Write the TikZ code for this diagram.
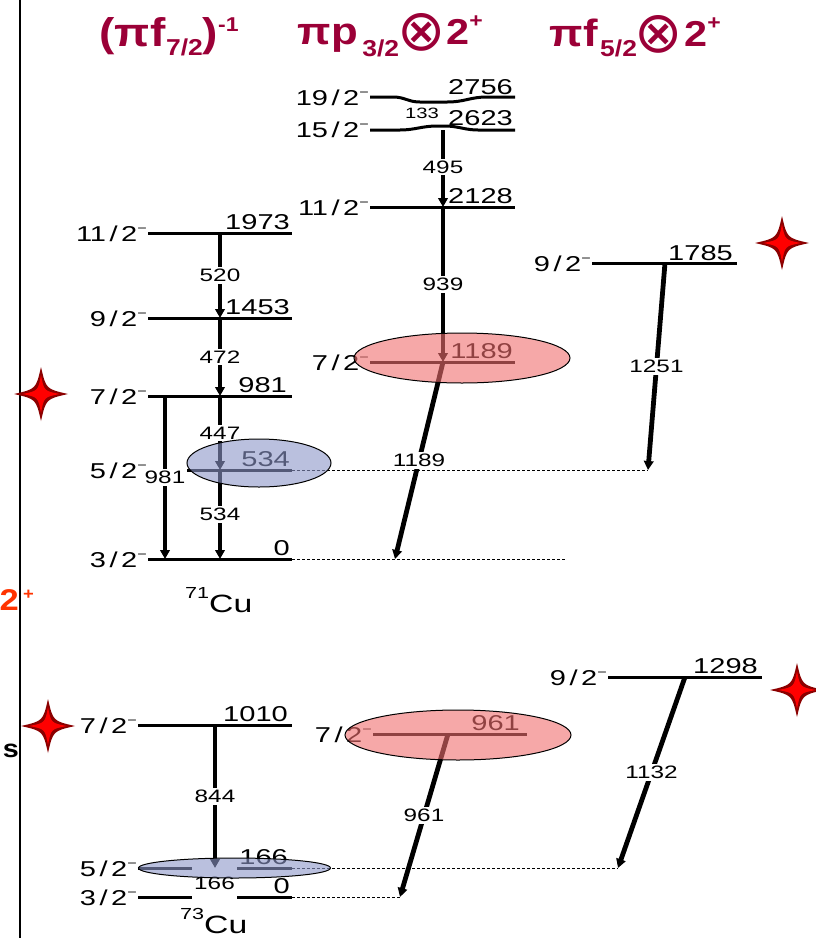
\documentclass[tikz,border=0pt]{standalone}
\usepackage{fontspec}
\setmainfont{Liberation Sans}
\newfontfamily\lf{Liberation Sans}[FakeStretch=1.35]
\newfontfamily\tf{Liberation Sans Bold}[FakeStretch=1.15]
\newfontfamily\symf{DejaVu Sans}
\usetikzlibrary{arrows.meta}
\definecolor{ttl}{RGB}{155,0,55}
\definecolor{blueE}{RGB}{140,150,200}
\definecolor{pinkE}{RGB}{240,110,110}
\definecolor{starD}{RGB}{139,0,0}
\definecolor{orng}{RGB}{255,51,0}
\newcommand\myfs[1]{\fontsize{#1}{#1}\selectfont}
\newcommand\jp[1]{#1\kern3.5pt/\kern3.5pt2\raisebox{9pt}{\myfs{12}−}}
\newcommand\otim{\kern-2pt\raisebox{-6pt}{\scalebox{1.8}{\symf\myfs{32}⊗}}\kern1pt}
\tikzset{star4/.pic={
  \fill[starD] (27,0) .. controls (5,5) .. (0,27) .. controls (-5,5) .. (-27,0) .. controls (-5,-5) .. (0,-27) .. controls (5,-5) .. (27,0) -- cycle;
  \fill[red] (19,0) .. controls (3,3) .. (0,19) .. controls (-3,3) .. (-19,0) .. controls (-3,-3) .. (0,-19) .. controls (3,-3) .. (19,0) -- cycle;
}}
\begin{document}
\begin{tikzpicture}[x=1pt,y=-1pt,
  lev/.style={line width=3pt},
  tr/.style={line width=4.8pt,-{Triangle[length=9pt,width=9.5pt]}},
  dl/.style={line width=1pt,dash pattern=on 3pt off 2pt},
  jl/.style={anchor=base east,inner sep=0pt,font=\lf\myfs{21.5}},
  el/.style={anchor=base east,inner sep=0pt,font=\lf\myfs{21.5}},
  tl/.style={fill=white,inner sep=2pt,font=\lf\myfs{18}},
  ttlst/.style={text=ttl,inner sep=0pt,anchor=base west,font=\tf}
]
\useasboundingbox (0,0) rectangle (815,938);
\draw[line width=2pt] (20,0) coordinate (vt) -- (20,938) coordinate (vb);

% titles
\node[ttlst] (t1) at (99,46) {\myfs{40}(π\kern1pt f\raisebox{-9pt}{\myfs{23}7/2})\raisebox{15pt}{\myfs{20}-1}};
\node[ttlst] (t2) at (297,44) {\myfs{38}π\kern1pt p\kern4pt\raisebox{-12pt}{\myfs{23}3/2}\otim\myfs{36}2\raisebox{17pt}{\myfs{20}+}};
\node[ttlst] (t3) at (549,46) {\myfs{38}π\kern1pt f\kern2pt\raisebox{-10pt}{\myfs{23}5/2}\otim\myfs{36}2\raisebox{17pt}{\myfs{20}+}};

% ===== 71Cu =====
\coordinate (a11l) at (148,233); \coordinate (a11r) at (292,233);
\coordinate (a9l) at (148,318);  \coordinate (a9r) at (292,318);
\coordinate (a7l) at (148,396);  \coordinate (a7r) at (292,396);
\coordinate (a5l) at (187,470);  \coordinate (a5r) at (292,470);
\coordinate (a3l) at (148,559);  \coordinate (a3r) at (292,559);
\coordinate (b11l) at (370,207); \coordinate (b11r) at (515,207);
\coordinate (b7l) at (370,362);  \coordinate (b7r) at (515,362);
\coordinate (c9l) at (592,263);  \coordinate (c9r) at (737,263);
\coordinate (d5end) at (648,470);
\coordinate (d3end) at (565,559);
\coordinate (g1189) at (395,559);

\draw[dl] (a5r) -- (d5end);
\draw[dl] (a3r) -- (d3end);

\draw[lev] (a11l) -- (a11r);
\draw[lev] (a9l) -- (a9r);
\draw[lev] (a7l) -- (a7r);
\draw[lev] (a5l) -- (a5r);
\draw[lev] (a3l) -- (a3r);
\draw[lev] (370,97) coordinate (b19l) -- (393,97) .. controls (405,97) and (408,102) .. (420,102) -- (447,102) .. controls (465,102) and (470,97) .. (487,97) -- (515,97) coordinate (b19r);
\draw[lev] (370,130) coordinate (b15l) -- (400,130) .. controls (415,130) and (422,126) .. (437,126) -- (445,126) .. controls (458,126) and (465,130) .. (478,130) -- (515,130) coordinate (b15r);
\draw[lev] (b11l) -- (b11r);
\draw[lev] (b7l) -- (b7r);
\draw[lev] (c9l) -- (c9r);

\draw[tr] (220,233) -- node[tl] (g520) {520} (220,318);
\draw[tr] (220,318) -- node[tl] (g472) {472} (220,396);
\draw[tr] (220,396) -- node[tl] (g447) {447} (220,470);
\draw[tr] (220,470) -- node[tl] (g534) {534} (220,559);
\draw[tr] (165,396) -- node[tl] (g981) {981} (165,559);
\draw[line width=4.8pt] (443,130) -- (443,150);
\draw[tr] (443,150) -- node[tl,pos=0.3] (g495) {495} (443,207);
\draw[tr] (443,207) -- node[tl] (g939) {939} (443,362);
\draw[tr] (443,362) -- node[tl] (g1189l) {1189} (g1189);
\draw[tr] (665,263) -- node[tl] (g1251) {1251} (d5end);
\node[font=\lf\myfs{15},inner sep=0pt] (g133) at (422,113) {133};

\node[jl] (ja11) at (147,241) {\jp{11}};
\node[jl] (ja9) at (147,326) {\jp{9}};
\node[jl] (ja7) at (147,404) {\jp{7}};
\node[jl] (ja5) at (147,478) {\jp{5}};
\node[jl] (ja3) at (147,567) {\jp{3}};
\node[jl] (jb19) at (369,105) {\jp{19}};
\node[jl] (jb15) at (369,137) {\jp{15}};
\node[jl] (jb11) at (369,215) {\jp{11}};
\node[jl] (jb7) at (369,370) {\jp{7}};
\node[jl] (jc9) at (591,271) {\jp{9}};

\node[el] (ea11) at (290,229) {1973};
\node[el] (ea9) at (290,314) {1453};
\node[el] (ea7) at (287,392) {981};
\node[el] (ea5) at (290,466) {534};
\node[el] (ea3) at (290,555) {0};
\node[el] (eb19) at (513,94) {2756};
\node[el] (eb15) at (513,125) {2623};
\node[el] (eb11) at (513,203) {2128};
\node[el] (eb7) at (513,358) {1189};
\node[el] (ec9) at (733,260) {1785};

\draw[fill=blueE,fill opacity=0.6,line width=1pt] (259,463) ellipse [x radius=72,y radius=24];
\draw[fill=pinkE,fill opacity=0.6,line width=1pt] (462,358) ellipse [x radius=108,y radius=25];

\node[anchor=base west,inner sep=0pt,font=\lf] (cu71) at (185,612) {\raisebox{14pt}{\myfs{16}71}\myfs{25}Cu};

% ===== 73Cu =====
\coordinate (p7l) at (138,725); \coordinate (p7r) at (292,725);
\coordinate (p5l) at (138,868); \coordinate (p5r) at (292,868);
\coordinate (p3l) at (138,897); \coordinate (p3r) at (292,897);
\coordinate (q7l) at (373,734); \coordinate (q7r) at (527,734);
\coordinate (r9l) at (608,677); \coordinate (r9r) at (762,677);
\coordinate (h5end) at (618,868);
\coordinate (h3end) at (400,897);

\draw[dl] (p5r) -- (h5end);
\draw[dl] (p3r) -- (h3end);
\draw[lev] (p7l) -- (p7r);
\draw[lev] (p5l) -- (p5r);
\draw[lev] (p3l) -- (p3r);
\draw[lev] (q7l) -- (q7r);
\draw[lev] (r9l) -- (r9r);

\node[fill=white,inner sep=0pt,minimum width=45pt,minimum height=33pt,font=\lf\myfs{18}] (g166) at (214.5,883) {166};
\draw[tr] (215,725) -- node[tl] (g844) {844} (215,868);
\draw[tr] (448,734) -- node[tl] (g961) {961} (h3end);
\draw[tr] (685,677) -- node[tl] (g1132) {1132} (h5end);

\node[jl] (jp7) at (137,733) {\jp{7}};
\node[jl] (jp5) at (137,876) {\jp{5}};
\node[jl] (jp3) at (137,905) {\jp{3}};
\node[jl] (jq7) at (372,742) {\jp{7}};
\node[jl] (jr9) at (607,685) {\jp{9}};

\node[el] (ep7) at (288,721) {1010};
\node[el] (ep5) at (288,864) {166};
\node[el] (ep3) at (290,893) {0};
\node[el] (eq7) at (520,730) {961};
\node[el] (er9) at (758,673) {1298};

\draw[fill=blueE,fill opacity=0.6,line width=1pt] (234.5,868) ellipse [x radius=96,y radius=10];
\draw[fill=pinkE,fill opacity=0.6,line width=1pt] (458,735) ellipse [x radius=113,y radius=25];

\node[anchor=base west,inner sep=0pt,font=\lf] (cu73) at (180,933) {\raisebox{14pt}{\myfs{16}73}\myfs{25}Cu};

\pic (s1) at (41,394) {star4};
\pic (s2) at (782,243) {star4};
\pic (s3) at (48,726) {star4};
\pic (s4) at (797,690) {star4};

\node[anchor=base east,inner sep=0pt,text=orng,font=\tf\myfs{30}] (two) at (19,610) {2};
\node[anchor=base west,inner sep=0pt,text=orng,font=\tf\myfs{16}] (plus) at (23,599) {+};
\node[anchor=base east,inner sep=0pt,font=\tf\myfs{25}] (ess) at (19,757) {s};
\end{tikzpicture}
\end{document}
